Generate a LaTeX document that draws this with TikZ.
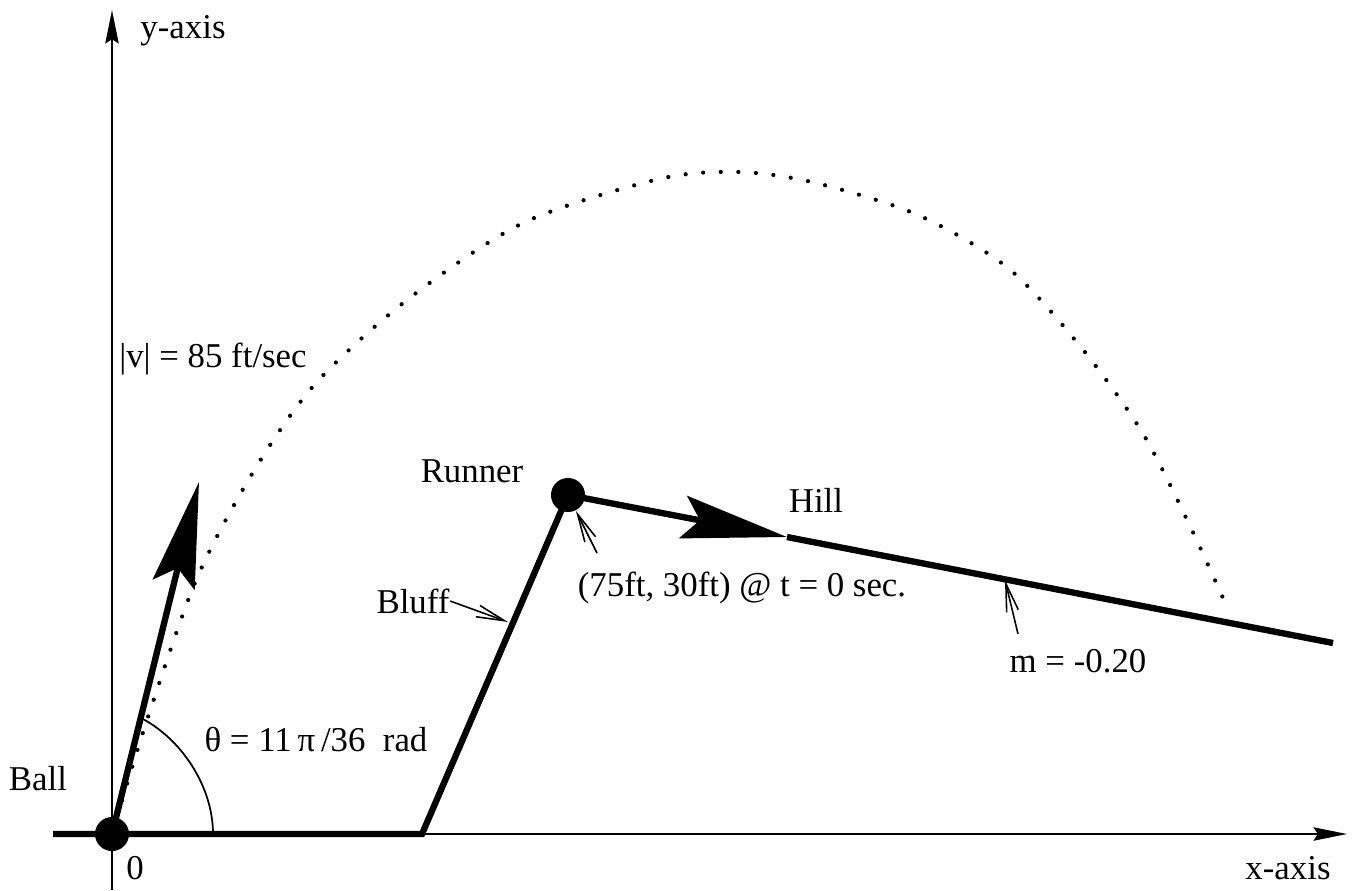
\documentclass[tikz,border=0pt]{standalone}
\usepackage{fontspec}
\setmainfont{Liberation Serif}
\usepackage{xcolor}
\usepackage{tikz}
\usetikzlibrary{arrows.meta}

\tikzset{
    groundline/.style={line width=1.8pt, line join=miter},
    axisline/.style={line width=0.55pt, -{Stealth[length=9.5pt,width=3.8pt,inset=1.2pt]}},
    pointer/.style={line width=0.45pt, -{Straight Barb[length=8pt,width=3.4pt]}},
    bigarrow/.style={-{Stealth[length=30pt,width=12.2pt,inset=4.8pt]}},
    ballnode/.style={circle, fill=black, minimum size=0.34cm, inner sep=0pt},
    lbl/.style={inner sep=0pt, font=\fontsize{9.9}{11.8}\selectfont}
}

\begin{document}
\begin{tikzpicture}[x=0.01cm, y=-0.01cm]
            \useasboundingbox (0,0) rectangle (1354,890);

            \coordinate (yfoot) at (112,890);
            \coordinate (ytip) at (112,10);
            \coordinate (xfoot) at (53,834);
            \coordinate (xtip) at (1347,834);
            \coordinate (bluffbase) at (422,834);
            \coordinate (hillarrow) at (787,537);
            \coordinate (hillend) at (1333,643);
            \coordinate (vtip) at (199,482);
            \coordinate (arcstart) at (141,718);
            \coordinate (arcend) at (213,834);
            \coordinate (bluffpt) at (508,622);
            \coordinate (runnertail) at (597,553);
            \coordinate (slopetail) at (1018,634);
            \coordinate (slopept) at (1005,580);

            \draw[axisline] (yfoot) -- (ytip);
            \draw[axisline] (xfoot) -- (xtip);

            \draw[
                line width=1.2pt,
                line cap=round,
                dash pattern=on 0pt off 5pt
            ] plot[smooth] coordinates {
                (112,834) (147,720) (197,578) (255,469) (316,383) (407,300)
                (523,223) (659,179) (740,172) (816,183) (918,215) (1008,268)
                (1080,346) (1142,432) (1190,526) (1227,607)
            };

            \node[ballnode] (ball) at (112,834) {};
            \node[ballnode] (runner) at (568,495) {};

            \draw[groundline] (xfoot) -- (bluffbase) -- (runner.center);
            \draw[groundline, bigarrow] (runner.center) -- (hillarrow);
            \draw[groundline] (hillarrow) -- (hillend);
            \draw[groundline, bigarrow] (ball.center) -- (vtip);
            \draw[line width=0.5pt] (arcstart) .. controls (180,738) and (213,785) .. (arcend);

            \node[lbl] (ylabel) at (183,31) {y-axis};
            \node[lbl] (xlabel) at (1288,868) {x-axis};
            \node[lbl] (balllbl) at (38,779) {Ball};
            \node[lbl] (origin) at (135,868) {0};
            \node[lbl] (anglelbl) at (316,739) {θ = 11\,π\,/36\enspace rad};
            \node[lbl] (speedlbl) at (213,359) {|v| = 85 ft/sec};
            \node[lbl] (runnerlbl) at (472,471) {Runner};
            \node[lbl] (hilllbl) at (816,500) {Hill};
            \node[lbl] (blufflbl) at (413,601) {Bluff};
            \node[lbl] (startlbl) at (742,588) {(75ft, 30ft) @ t = 0 sec.};
            \node[lbl] (slopelbl) at (1078,661) {m = -0.20};

            \draw[pointer] (blufflbl.east) -- (bluffpt);
            \draw[pointer] (runnertail) -- (runner);
            \draw[pointer] (slopetail) -- (slopept);
        \end{tikzpicture}
\end{document}
